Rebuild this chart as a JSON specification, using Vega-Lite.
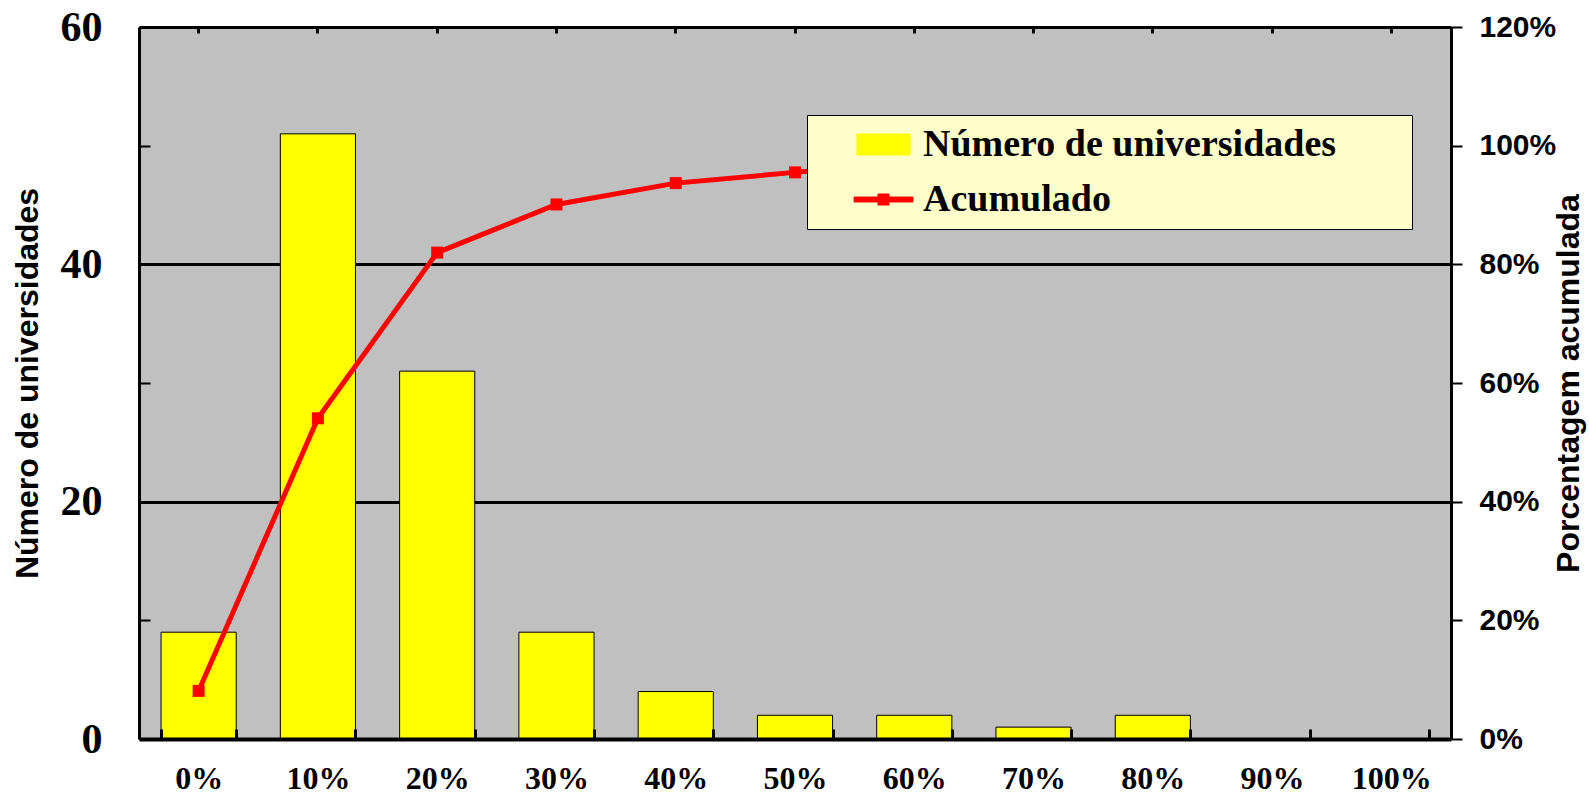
{
  "$schema": "https://vega.github.io/schema/vega-lite/v6.json",
  "width": 1312,
  "height": 712,
  "autosize": {"type": "none"},
  "padding": {"left": 139, "top": 27, "right": 138, "bottom": 61},
  "background": "white",
  "config": {"view": {"fill": "#C0C0C0", "stroke": null}},
  "data": {
    "values": [
      {"cat": "0%", "n": 9, "cum": 0.0811},
      {"cat": "10%", "n": 51, "cum": 0.5405},
      {"cat": "20%", "n": 31, "cum": 0.8198},
      {"cat": "30%", "n": 9, "cum": 0.9009},
      {"cat": "40%", "n": 4, "cum": 0.9369},
      {"cat": "50%", "n": 2, "cum": 0.955},
      {"cat": "60%", "n": 2, "cum": 0.973},
      {"cat": "70%", "n": 1, "cum": 0.982},
      {"cat": "80%", "n": 2, "cum": 1.0},
      {"cat": "90%", "n": 0, "cum": 1.0},
      {"cat": "100%", "n": 0, "cum": 1.0}
    ]
  },
  "layer": [
    {
      "mark": {"type": "bar", "stroke": "black", "strokeWidth": 1},
      "encoding": {
        "x": {
          "field": "cat",
          "type": "ordinal",
          "sort": null,
          "scale": {"paddingInner": 0.37, "paddingOuter": 0.185},
          "axis": {
            "title": null,
            "tickBand": "extent",
            "tickSize": -10,
            "tickWidth": 3,
            "tickColor": "black",
            "domainColor": "black",
            "domainWidth": 4,
            "labelFont": "Liberation Serif",
            "labelFontWeight": "bold",
            "labelFontSize": 32,
            "labelColor": "black",
            "labelPadding": 34,
            "labelAngle": 0,
            "zindex": 1
          }
        },
        "y": {
          "field": "n",
          "type": "quantitative",
          "scale": {"domain": [0, 60]},
          "axis": {
            "title": "Número de universidades",
            "values": [0, 10, 20, 30, 40, 50, 60],
            "labelExpr": "datum.value % 20 == 0 ? datum.label : ''",
            "grid": true,
            "gridColor": "black",
            "gridWidth": 3,
            "gridOpacity": {"condition": {"test": "datum.value % 20 == 0 && datum.value > 0", "value": 1}, "value": 0},
            "tickSize": -11,
            "tickColor": "black",
            "tickWidth": 2,
            "domainColor": "black",
            "domainWidth": 3,
            "labelFont": "Liberation Serif",
            "labelFontWeight": "bold",
            "labelFontSize": 42,
            "labelColor": "black",
            "labelPadding": 48,
            "labelFlush": false,
            "titleFont": "Liberation Sans",
            "titleFontSize": 32,
            "titleFontWeight": "bold",
            "titleColor": "black",
            "titleX": -112,
            "titleY": 356,
            "titleAngle": -90,
            "titleAlign": "center",
            "titleBaseline": "middle"
          }
        },
        "color": {
          "datum": "Número de universidades",
          "type": "nominal",
          "scale": {"domain": ["Número de universidades", "Acumulado"], "range": ["#FFFF00", "#FF0000"]},
          "legend": {
            "orient": "none",
            "legendX": 668,
            "legendY": 88,
            "title": null,
            "fillColor": "#FFFFCC",
            "strokeColor": "black",
            "padding": 10,
            "labelFont": "Liberation Serif",
            "labelFontWeight": "bold",
            "labelFontSize": 38,
            "labelColor": "black",
            "labelLimit": 900,
            "labelExpr": "datum.label == 'Acumulado' ? datum.label : datum.label + ' \u2800\u2800'",
            "symbolSize": 1444,
            "symbolType": {"expr": "datum.value == 'Acumulado' ? 'M-1.55,-0.13H1.55V0.13H-1.55Z M-0.29,-0.29H0.29V0.29H-0.29Z' : 'M-1.395,-0.553H1.395V0.553H-1.395Z'"},
            "symbolFillColor": {"expr": "datum.value == 'Acumulado' ? '#FF0000' : '#FFFF00'"},
            "symbolStrokeColor": {"expr": "datum.value == 'Acumulado' ? '#FF0000' : '#000000'"},
            "symbolStrokeWidth": 1,
            "rowPadding": 16,
            "symbolOffset": 47,
            "labelOffset": 20,
            "encode": {
              "legend": {
                "strokeWidth": {"value": 2}
              }
            }
          }
        }
      }
    },
    {
      "mark": {"type": "line", "strokeWidth": 5, "point": {"filled": true, "shape": "square", "size": 144}},
      "encoding": {
        "x": {
          "field": "cat",
          "type": "ordinal",
          "sort": null,
          "scale": {"paddingInner": 0.37, "paddingOuter": 0.185},
          "axis": {
            "title": null,
            "labels": false,
            "domain": false,
            "grid": false,
            "tickBand": "center",
            "tickSize": -6,
            "tickWidth": 3,
            "tickColor": "black",
            "zindex": 1
          }
        },
        "y": {
          "field": "cum",
          "type": "quantitative",
          "scale": {"domain": [0, 1.2]},
          "axis": {
            "orient": "right",
            "title": "Porcentagem acumulada",
            "values": [0, 0.2, 0.4, 0.6, 0.8, 1, 1.2],
            "format": ".0%",
            "grid": false,
            "tickSize": 11,
            "tickColor": "black",
            "tickWidth": 2,
            "domainColor": "black",
            "domainWidth": 3,
            "labelFont": "Liberation Sans",
            "labelFontWeight": "bold",
            "labelFontSize": 30,
            "labelColor": "black",
            "labelPadding": 17,
            "labelFlush": false,
            "titleFont": "Liberation Sans",
            "titleFontSize": 32,
            "titleFontWeight": "bold",
            "titleColor": "black",
            "titleX": 117,
            "titleY": 356,
            "titleAngle": -90,
            "titleAlign": "center",
            "titleBaseline": "middle"
          }
        },
        "color": {"datum": "Acumulado", "type": "nominal"}
      }
    }
  ],
  "resolve": {"scale": {"y": "independent"}, "axis": {"x": "independent"}}
}
